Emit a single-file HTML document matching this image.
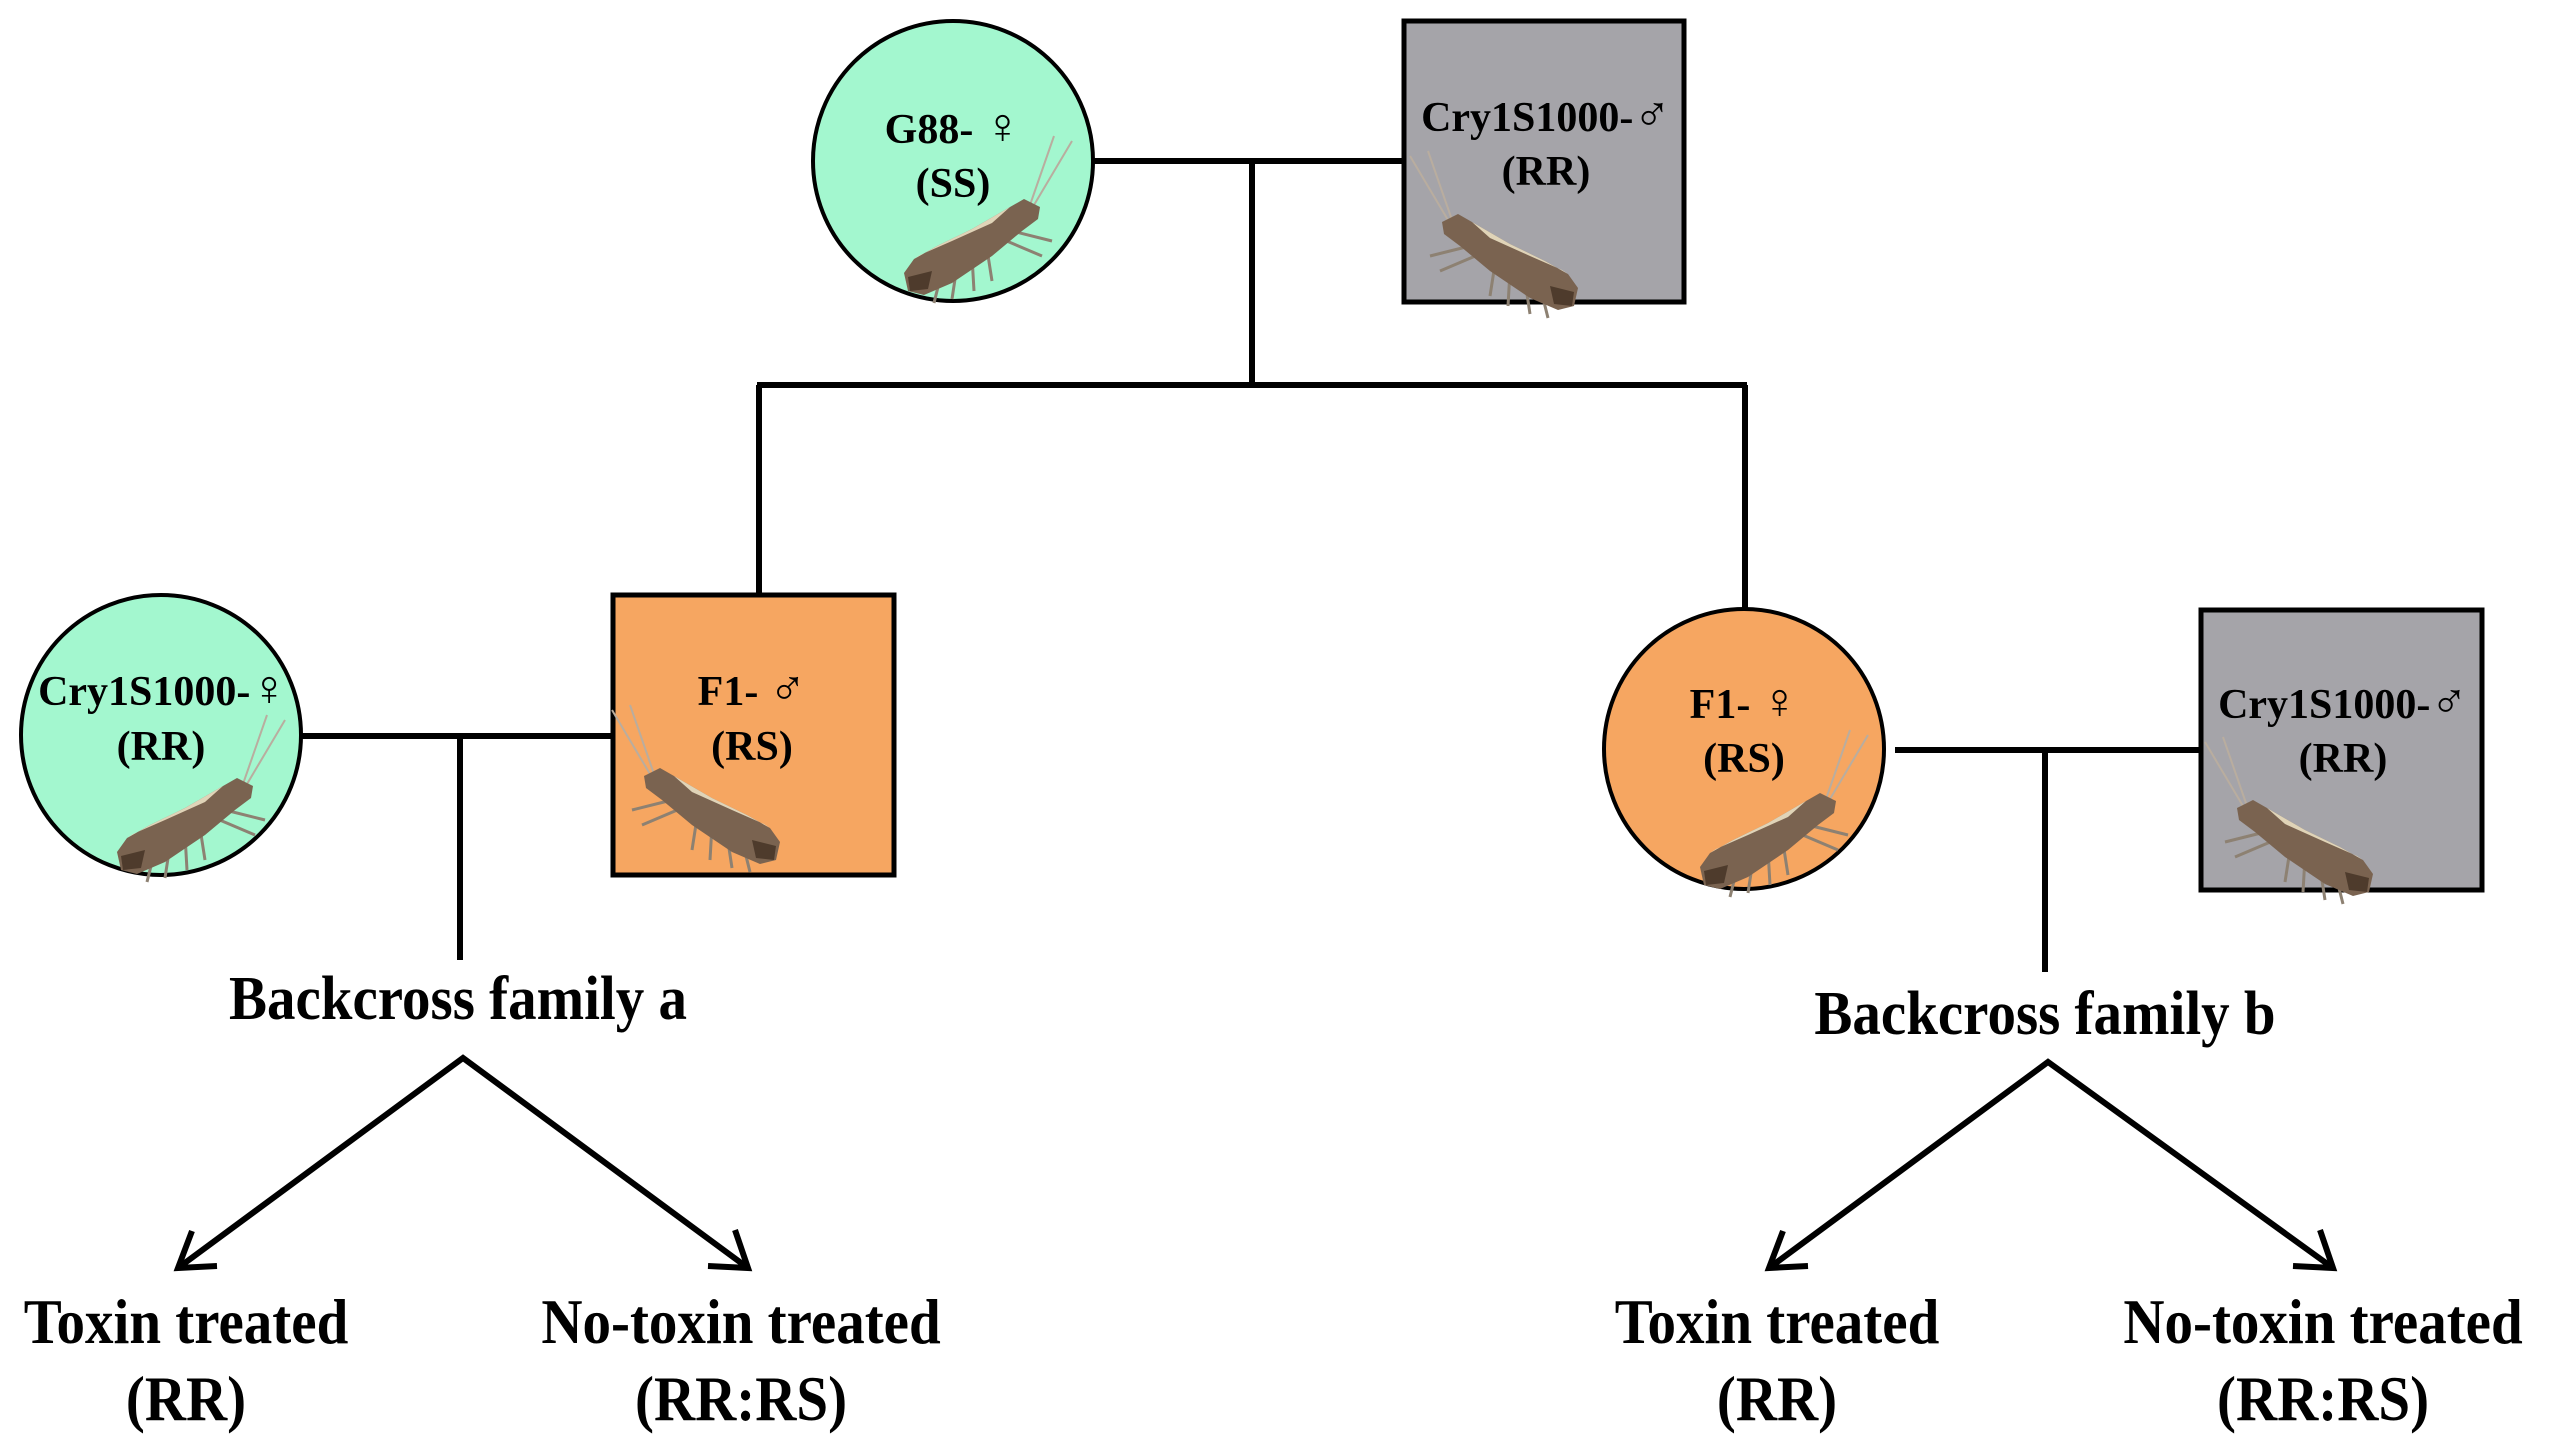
<!DOCTYPE html>
<html><head><meta charset="utf-8"><style>
html,body{margin:0;padding:0;background:#fff;}
svg{display:block;}
text{font-family:"Liberation Serif","DejaVu Serif",serif;font-weight:bold;fill:#000;}
.s{font-size:50px;font-weight:normal;}
</style></head><body>
<svg width="2549" height="1440" viewBox="0 0 2549 1440" xmlns="http://www.w3.org/2000/svg">
<defs>
<g id="moth">
  <path d="M-2,-6 L-40,-70 M2,-6 L-22,-75" stroke="#b9ad9f" stroke-width="2" fill="none"/>
  <path d="M20,20 L-20,30 M30,28 L-10,45 M45,38 L40,70 M60,45 L58,80 M75,55 L80,88 M90,60 L98,92" stroke="#8d8172" stroke-width="3" fill="none"/>
  <polygon points="-8,-4 8,-12 22,-4 60,18 95,35 118,48 128,62 124,80 108,84 80,72 40,45 10,20 -6,8" fill="#7a6350"/>
  <polygon points="22,-4 60,18 95,35 118,48 112,44 80,30 40,12" fill="#e0d4b8"/>
  <polygon points="100,60 124,66 122,80 104,78" fill="#4e3b2c"/>
</g>
</defs>
<g stroke="#000" stroke-width="6" fill="none">
  <line x1="1093" y1="161" x2="1403" y2="161"/>
  <line x1="1252" y1="161" x2="1252" y2="385"/>
  <line x1="757" y1="385" x2="1747" y2="385"/>
  <line x1="759" y1="385" x2="759" y2="594"/>
  <line x1="1745" y1="385" x2="1745" y2="608"/>
  <line x1="302" y1="736" x2="612" y2="736"/>
  <line x1="460" y1="736" x2="460" y2="960"/>
  <line x1="1895" y1="750" x2="2200" y2="750"/>
  <line x1="2045" y1="750" x2="2045" y2="972"/>
  <polyline points="178,1268 463,1058 748,1268"/>
  <polyline points="1769,1268 2048,1062 2333,1268"/>
  <polyline points="192,1231 178,1268 217,1266"/>
  <polyline points="708,1266 748,1268 735,1230"/>
  <polyline points="1783,1231 1769,1268 1808,1266"/>
  <polyline points="2293,1266 2333,1268 2320,1230"/>
</g>
<circle cx="953" cy="161" r="140" fill="#a3f7cf" stroke="#000" stroke-width="4"/>
<rect x="1404" y="21" width="280" height="281" fill="#a5a4a9" stroke="#000" stroke-width="5"/>
<circle cx="161" cy="735" r="140" fill="#a3f7cf" stroke="#000" stroke-width="4"/>
<rect x="613" y="595" width="281" height="280" fill="#f6a661" stroke="#000" stroke-width="5"/>
<circle cx="1744" cy="749" r="140" fill="#f6a661" stroke="#000" stroke-width="4"/>
<rect x="2201" y="610" width="281" height="280" fill="#a5a4a9" stroke="#000" stroke-width="5"/>
<use href="#moth" transform="translate(1032,211) scale(-1,1)"/>
<use href="#moth" transform="translate(1450,226)"/>
<use href="#moth" transform="translate(245,790) scale(-1,1)"/>
<use href="#moth" transform="translate(652,780)"/>
<use href="#moth" transform="translate(1828,805) scale(-1,1)"/>
<use href="#moth" transform="translate(2245,812)"/>
<g font-size="42" text-anchor="middle">
  <text x="953" y="143">G88- <tspan class="s">♀</tspan></text>
  <text x="953" y="197">(SS)</text>
  <text x="1546" y="131">Cry1S1000-<tspan class="s">♂</tspan></text>
  <text x="1546" y="185">(RR)</text>
  <text x="163" y="705">Cry1S1000-<tspan class="s">♀</tspan></text>
  <text x="161" y="760">(RR)</text>
  <text x="752" y="705">F1- <tspan class="s">♂</tspan></text>
  <text x="752" y="760">(RS)</text>
  <text x="1744" y="718">F1- <tspan class="s">♀</tspan></text>
  <text x="1744" y="772">(RS)</text>
  <text x="2343" y="718">Cry1S1000-<tspan class="s">♂</tspan></text>
  <text x="2343" y="772">(RR)</text>
</g>
<g font-size="57" text-anchor="middle">
  <text transform="translate(458,1019) scale(1,1.1)">Backcross family a</text>
  <text transform="translate(2045,1034) scale(1,1.1)">Backcross family b</text>
</g>
<g font-size="57" text-anchor="middle">
  <text transform="translate(186,1343) scale(1,1.12)">Toxin treated</text>
  <text transform="translate(186,1420) scale(1,1.12)">(RR)</text>
  <text transform="translate(741,1343) scale(1,1.12)">No-toxin treated</text>
  <text transform="translate(741,1420) scale(1,1.12)">(RR:RS)</text>
  <text transform="translate(1777,1343) scale(1,1.12)">Toxin treated</text>
  <text transform="translate(1777,1420) scale(1,1.12)">(RR)</text>
  <text transform="translate(2323,1343) scale(1,1.12)">No-toxin treated</text>
  <text transform="translate(2323,1420) scale(1,1.12)">(RR:RS)</text>
</g>
</svg>
</body></html>
